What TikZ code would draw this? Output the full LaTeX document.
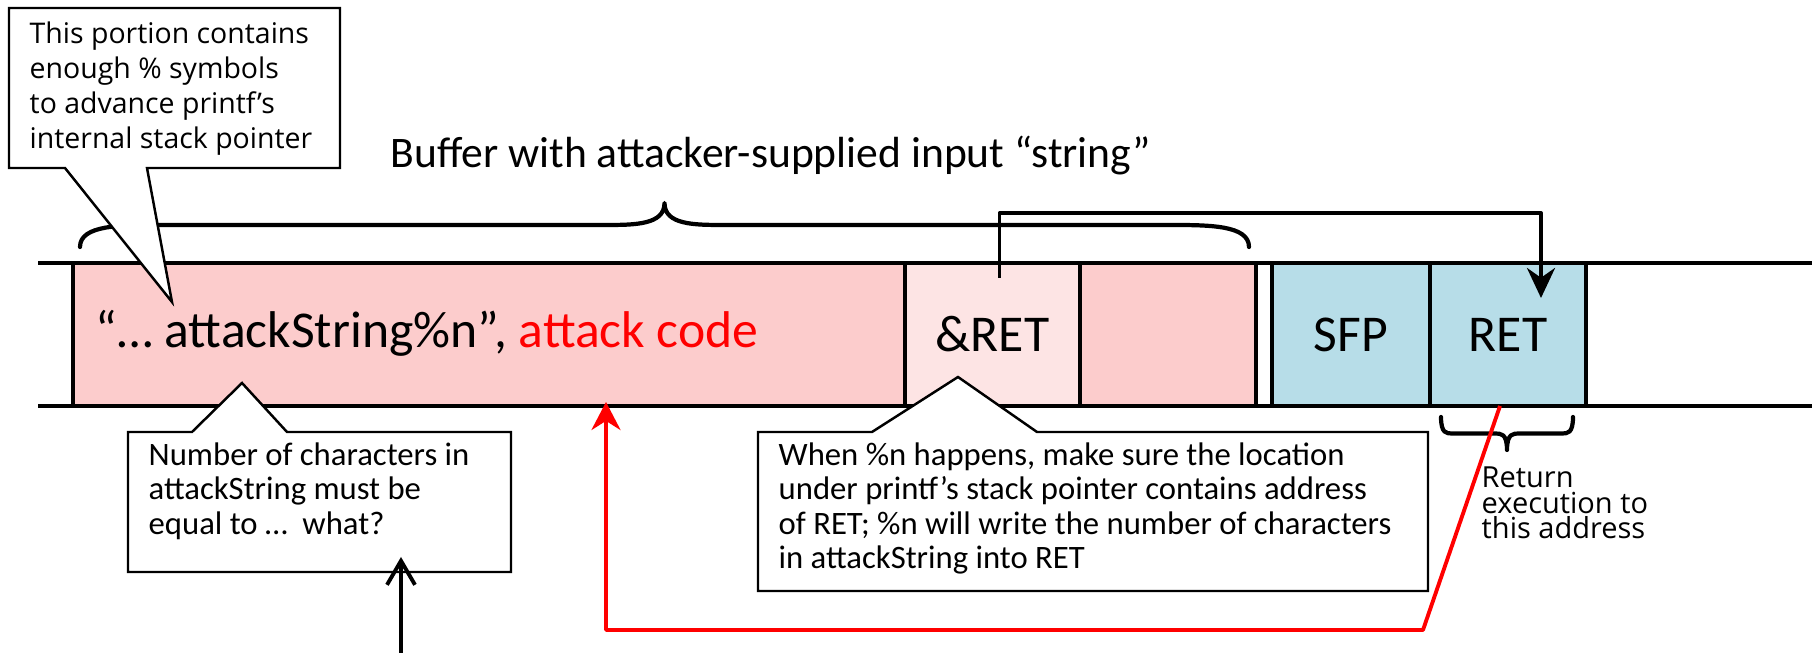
\documentclass[tikz,border=0pt]{standalone}
\usepackage{fontspec}
\setmainfont{Carlito}
\newfontfamily\segoe{Open Sans}
\usepackage{tikz}
\usetikzlibrary{arrows.meta,positioning,calc}

\definecolor{bufPink}{RGB}{252,204,204}
\definecolor{addrPink}{RGB}{253,228,228}
\definecolor{frameBlue}{RGB}{183,221,232}

\newcommand{\drawBrace}[6]{
    \begin{scope}[shift={(#1)},yscale=#6]
        \draw[line width=1.2pt,line cap=round] (0,0) .. controls (0,#3/2) and (#4/2,#3/2) .. (#4,#3/2)
            -- (#2/2-#5,#3/2) .. controls (#2/2-#5/2,#3/2) and (#2/2,#3/2) .. (#2/2,#3)
            .. controls (#2/2,#3/2) and (#2/2+#5/2,#3/2) .. (#2/2+#5,#3/2)
            -- (#2-#4,#3/2) .. controls (#2-#4/2,#3/2) and (#2,#3/2) .. (#2,0);
    \end{scope}
}

\begin{document}
\begin{tikzpicture}[line join=round,>=Stealth,
        cell/.style={draw,line width=1.4pt,minimum height=1.43cm,inner sep=0pt,outer sep=0pt,
            font=\fontsize{14.7}{17}\selectfont},
        stripLine/.style={line width=1.4pt},
        callout/.style={draw,fill=white,line width=0.7pt,line join=miter},
        noteText/.style={inner sep=0pt,align=left,font=\fontsize{9.3}{9.8}\selectfont},
        ptr/.style={line width=1.1pt}]

        \useasboundingbox (0,0) rectangle (18.12,6.53);

        % --- Variables ---
        \coordinate (stripL) at (0.38,0);
        \coordinate (stripR) at (18.12,0);

        % Stack cells
        \node[cell,fill=bufPink,minimum width=8.32cm] (buf) at (4.89,3.185) {};
        \node[cell,fill=addrPink,minimum width=1.75cm,right=0pt of buf] (aret) {\&RET};
        \node[cell,fill=bufPink,minimum width=1.76cm,right=0pt of aret] (pad) {};
        \node[cell,fill=frameBlue,minimum width=1.58cm,right=0.16cm of pad] (sfp) {SFP};
        \node[cell,fill=frameBlue,minimum width=1.56cm,right=0pt of sfp] (ret) {RET};

        \draw[stripLine] (stripL |- buf.north) -- (stripR |- buf.north);
        \draw[stripLine] (stripL |- buf.south) -- (stripR |- buf.south);

        % label in buffer
        \node[anchor=base west,inner sep=0pt,font=\fontsize{14.7}{17}\selectfont] (bufText)
            at ($(buf.west)+(0.22,-0.135)$) {“…\ attackString\%n”, \textcolor{red}{attack code}};

        % Buffer brace
        \drawBrace{0.80,4.06}{11.69}{0.44}{0.80}{0.60}{1}
        \node[anchor=base west,inner sep=0pt,font=\fontsize{12.4}{15}\selectfont] (title)
            at (3.90,4.85) {Buffer with attacker-supplied input “string”};

        % Pointer from &RET to RET
        \draw[ptr,-{Stealth[length=3mm,width=2.8mm]}] ($(aret.north)+(0.07,-0.15)$) -- ++(0,0.65)
            -| ($(ret.north)+(0.33,-0.35)$);

        % Return brace
        \drawBrace{14.41,2.36}{1.32}{0.33}{0.11}{0.12}{-1}

        % Jump back to attack code
        \draw[ptr,red,-{Stealth[length=2.8mm,width=2.9mm]}] ($(ret.south)+(-0.08,0)$)
            -- ($(ret.south)+(-0.85,-2.24)$) -| ($(buf.south west)+(5.33,0.04)$);

        % Callout: % symbols
        \coordinate (c1nw) at (0.09,6.45);
        \coordinate (c1se) at (3.40,4.85);
        \coordinate (c1tip) at (1.72,3.51);
        \draw[callout] (c1nw) -| (c1se) -- ($(c1nw |- c1se)+(1.38,0)$) -- (c1tip)
            -- ($(c1nw |- c1se)+(0.56,0)$) -- (c1nw |- c1se) -- cycle;
        \node[noteText,font=\segoe\fontsize{8.1}{10}\selectfont,below right=0.13cm and 0.20cm of c1nw] (c1)
            {This portion contains\\enough \% symbols\\to advance printf’s\\internal stack pointer};

        % Callout: number of characters
        \coordinate (c2nw) at (1.28,2.21);
        \coordinate (c2se) at (5.11,0.81);
        \coordinate (c2tip) at (2.42,2.70);
        \draw[callout] (c2nw) -- ($(c2nw)+(0.64,0)$) -- (c2tip) -- ($(c2nw)+(1.59,0)$)
            -| (c2se) -- (c2nw |- c2se) -- cycle;
        \node[noteText,below right=0.10cm and 0.20cm of c2nw] (c2)
            {Number of characters in\\attackString must be\\equal to …~ what?};

        % Callout: %n
        \coordinate (c3nw) at (7.58,2.21);
        \coordinate (c3se) at (14.28,0.62);
        \coordinate (c3tip) at (9.58,2.76);
        \draw[callout] (c3nw) -- ($(c3nw)+(1.14,0)$) -- (c3tip) -- ($(c3nw)+(2.79,0)$)
            -| (c3se) -- (c3nw |- c3se) -- cycle;
        \node[noteText,below right=0.10cm and 0.20cm of c3nw] (c3)
            {When \%n happens, make sure the location\\under printf’s stack pointer contains address\\of RET; \%n will write the number of characters\\in attackString into RET};

        % Question arrow
        \coordinate (qFoot) at (4.01,0);
        \coordinate (qTip) at ($(c2se)+(-1.10,0.15)$);
        \draw[ptr,line cap=round,-{Straight Barb[length=2.4mm,width=2.8mm]}] (qFoot) -- (qTip);

        % label at return brace
        \node[anchor=north west,inner sep=0pt,align=left,font=\segoe\fontsize{8.25}{7.3}\selectfont] (retNote)
            at (14.81,1.87) {Return\\execution to\\this address};

\end{tikzpicture}
\end{document}
